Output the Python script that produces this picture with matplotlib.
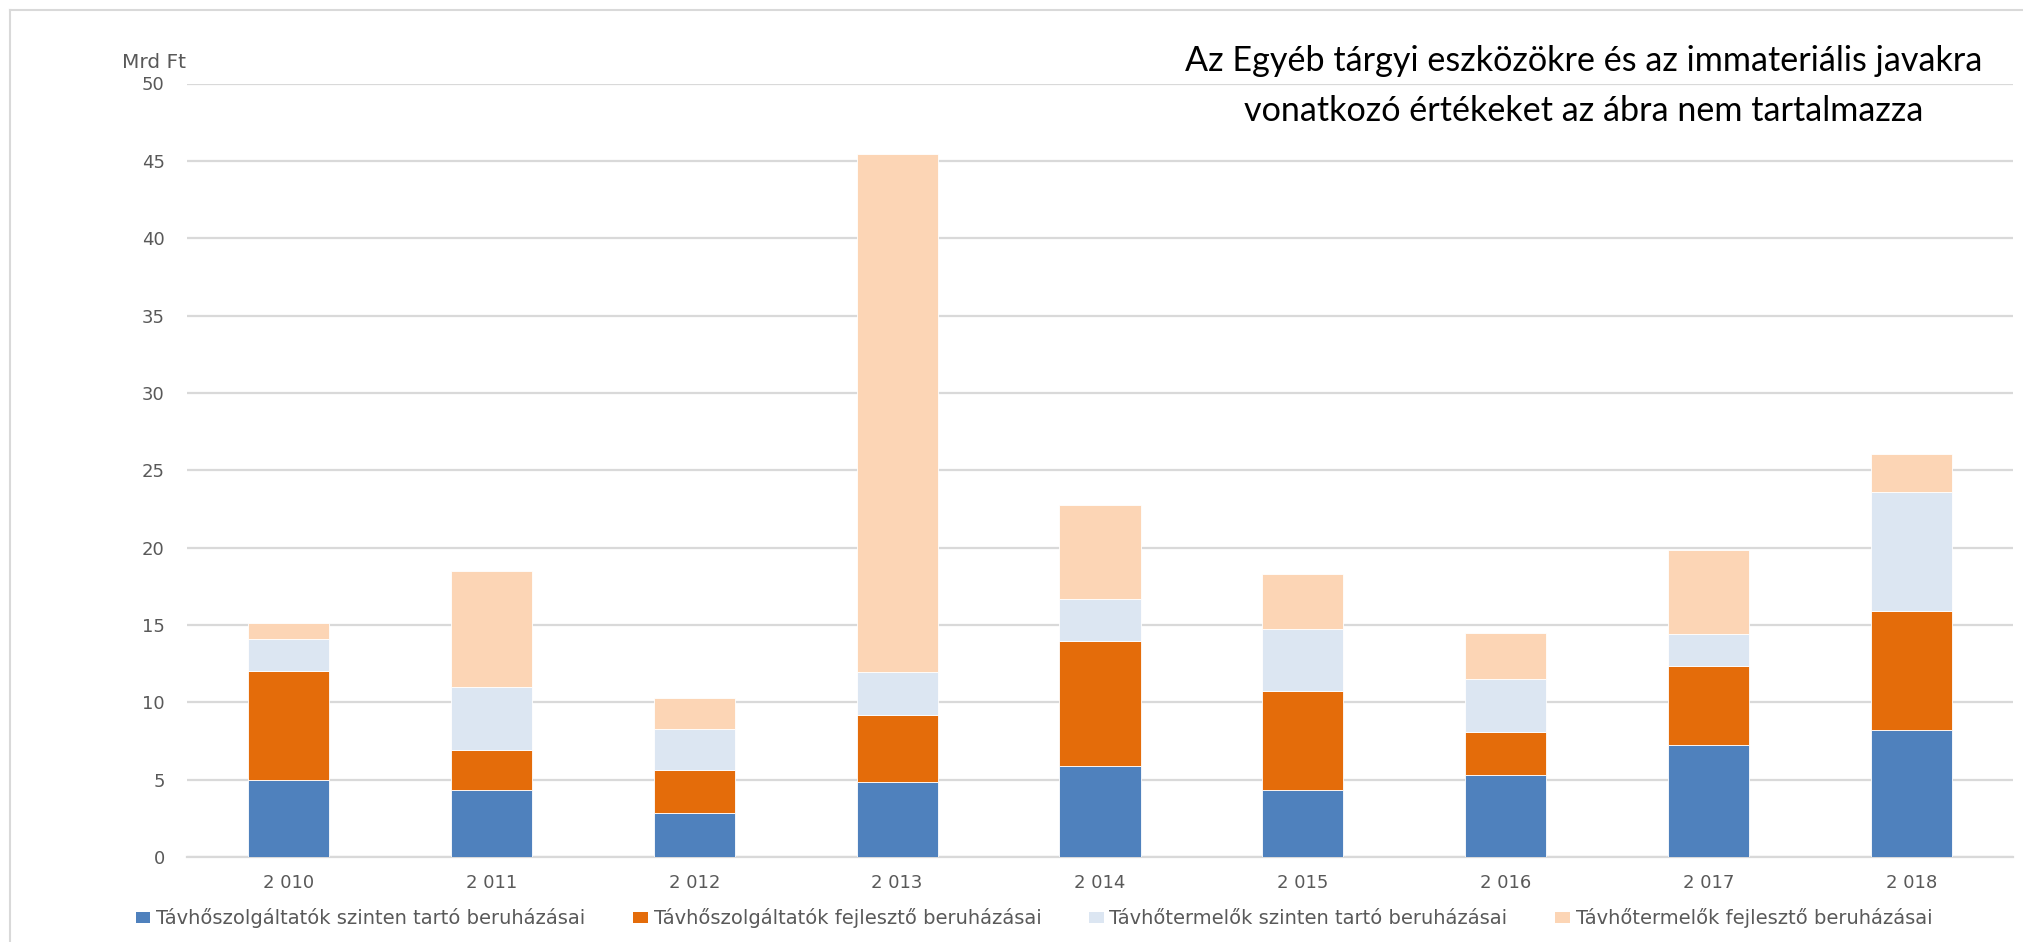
import matplotlib.pyplot as plt
from matplotlib.lines import Line2D
from matplotlib.patches import Patch
import numpy as np

plt.rcParams['font.family'] = ['DejaVu Sans']

years = ['2 010', '2 011', '2 012', '2 013', '2 014', '2 015', '2 016', '2 017', '2 018']
szolg_szinten = [5.0, 4.3, 2.85, 4.85, 5.9, 4.3, 5.3, 7.25, 8.2]
szolg_fejleszto = [7.0, 2.6, 2.75, 4.35, 8.05, 6.4, 2.8, 5.1, 7.7]
term_szinten = [2.1, 4.1, 2.65, 2.75, 2.7, 4.05, 3.4, 2.05, 7.7]
term_fejleszto = [1.0, 7.5, 2.0, 33.5, 6.1, 3.55, 2.95, 5.45, 2.45]

labels = ['Távhőszolgáltatók szinten tartó beruházásai',
          'Távhőszolgáltatók fejlesztő beruházásai',
          'Távhőtermelők szinten tartó beruházásai',
          'Távhőtermelők fejlesztő beruházásai']
colors = ['#4f81bd', '#e46c0a', '#dce6f2', '#fcd5b5']

grey = '#595959'
gridc = '#d9d9d9'

fig = plt.figure(figsize=(20.23, 9.42), dpi=100)
ax = fig.add_axes([187 / 2023, 1 - 857 / 942, 1826 / 2023, 773.5 / 942])

x = np.arange(len(years))
bottom = np.zeros(len(years))
for vals, lab, col in zip([szolg_szinten, szolg_fejleszto, term_szinten, term_fejleszto], labels, colors):
    ax.bar(x, vals, 0.4, bottom=bottom, color=col, label=lab,
           edgecolor='white', linewidth=0.6, zorder=3)
    bottom += np.array(vals)

ax.set_xlim(-0.5, len(years) - 0.5)
ax.set_ylim(0, 50)
ax.set_yticks(range(0, 51, 5))
ax.set_xticks(x)
ax.set_xticklabels(years)
ax.yaxis.grid(True, color=gridc, linewidth=1.6, zorder=0)
ax.set_axisbelow(True)
for s in ['top', 'right', 'left']:
    ax.spines[s].set_visible(False)
ax.spines['bottom'].set_color(gridc)
ax.spines['bottom'].set_linewidth(1.6)
ax.tick_params(axis='both', length=0, labelsize=13, colors=grey)
ax.tick_params(axis='y', pad=16)
ax.tick_params(axis='x', pad=12)

fig.text(154 / 2023, 1 - 63 / 942, 'Mrd Ft', fontsize=14.5, color=grey, ha='center', va='center')

note = dict(fontsize=24.6, color='black', ha='center', va='center', family='Lato')
fig.text(1584 / 2023, 1 - 61 / 942, 'Az Egyéb tárgyi eszközökre és az immateriális javakra', **note)
fig.text(1584 / 2023, 1 - 111 / 942, 'vonatkozó értékeket az ábra nem tartalmazza', **note)

handles = [Patch(facecolor=c, edgecolor='none') for c in colors]
fig.legend(handles, labels, loc='center', bbox_to_anchor=(1034 / 2023, 1 - 918 / 942), ncol=4,
           frameon=False, fontsize=14, labelcolor=grey, handlelength=0.75, handleheight=0.5,
           handletextpad=0.3, columnspacing=2.45)

# chart area border (cropped at right and bottom)
fig.add_artist(Line2D([10 / 2023, 10 / 2023], [0, 1 - 10 / 942], color=gridc, linewidth=1.5))
fig.add_artist(Line2D([10 / 2023, 1], [1 - 10 / 942, 1 - 10 / 942], color=gridc, linewidth=1.5))

fig.savefig('out.png', dpi=100, facecolor='white')
